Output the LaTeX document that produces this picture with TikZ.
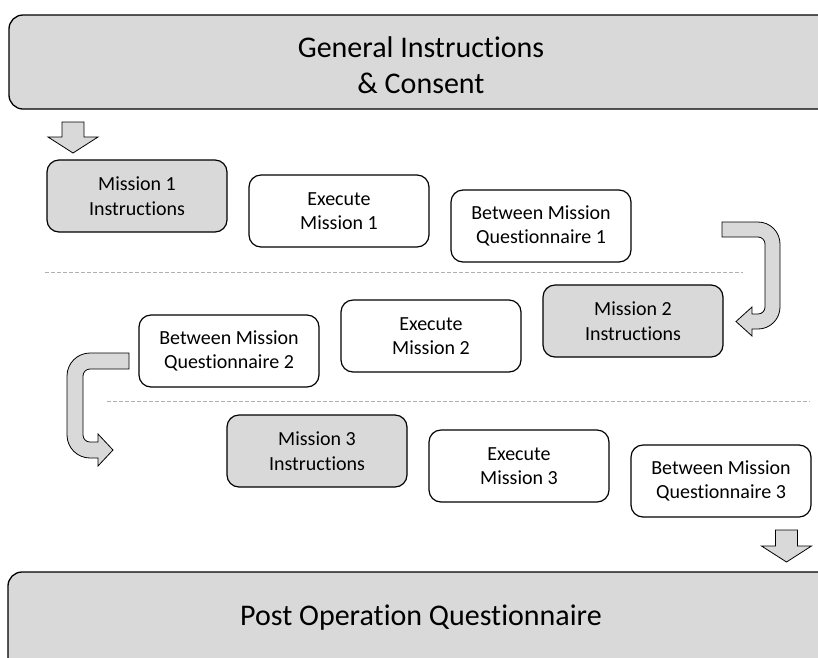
\documentclass[tikz,border=0pt]{standalone}
\usepackage{fontspec}
\setmainfont{Carlito}[Ligatures={NoCommon}]
\usepackage{tikz}
\usetikzlibrary{positioning}
\definecolor{boxgray}{HTML}{D9D9D9}
\definecolor{dashgray}{HTML}{B0B0B0}

\begin{document}
\begin{tikzpicture}[x=1pt, y=-1pt, node distance=202pt,
    stepbox/.style={draw, rectangle, rounded corners=12pt, line width=1.2pt,
      minimum width=180pt, minimum height=72pt, align=center,
      font=\fontsize{20}{24.5}\selectfont},
    instbox/.style={stepbox, fill=boxgray},
    banner/.style={draw, rectangle, rounded corners=14pt, line width=1.3pt, fill=boxgray},
    bannertext/.style={align=center, font=\fontsize{30}{36}\selectfont},
    blockarrow/.style={draw, line width=0.8pt, fill=boxgray, line join=miter},
    divider/.style={dashgray, dash pattern=on 4pt off 2pt, line width=0.8pt}]
  \useasboundingbox (0,0) rectangle (818,657);
  \clip (0,0) rectangle (818,657);

  % Banners
  \node [banner, minimum width=826pt, minimum height=94pt] (intro) at (422,62) {};
  \node [bannertext] (introtext) at (421,65) {General Instructions\\\& Consent};
  \node [banner, minimum width=828pt, minimum height=128pt] (post) at (422,636) {};
  \node [bannertext, anchor=base] (posttext) at (421,625) {Post Operation Questionnaire};

  % Mission 1
  \node [instbox] (m1) at (137,196) {Mission 1\\Instructions};
  \node [stepbox, right of=m1, yshift=-15pt] (e1) {Execute\\Mission 1};
  \node [stepbox, right of=e1, yshift=-15pt] (q1) {Between Mission\\Questionnaire 1};

  % Mission 2
  \node [instbox] (m2) at (633,321) {Mission 2\\Instructions};
  \node [stepbox, left of=m2, yshift=-15pt] (e2) {Execute\\Mission 2};
  \node [stepbox, left of=e2, yshift=-15pt] (q2) {Between Mission\\Questionnaire 2};

  % Mission 3
  \node [instbox] (m3) at (317,451) {Mission 3\\Instructions};
  \node [stepbox, right of=m3, yshift=-15pt] (e3) {Execute\\Mission 3};
  \node [stepbox, right of=e3, yshift=-15pt] (q3) {Between Mission\\Questionnaire 3};

  % Dividers
  \draw [divider] (45,272.5) -- (743,272.5);
  \draw [divider] (107,401.5) -- (810,401.5);

  % Arrows
  \draw [blockarrow] (62,122) -- (84,122) -- (84,137) -- (98,137) -- (73,153)
    -- (48,137) -- (62,137) -- cycle;
  \draw [blockarrow] (775.5,530) -- (797.5,530) -- (797.5,546) -- (811.5,546)
    -- (786.5,562) -- (761.5,546) -- (775.5,546) -- cycle;
  \draw [blockarrow] (722,222) -- (758,222) arc[start angle=90, end angle=0, radius=22pt]
    -- (780,307) arc[start angle=0, end angle=-90, radius=22pt]
    -- (752,329) -- (752,336) -- (736,321.5) -- (752,307) -- (752,314) -- (758,314)
    arc[start angle=-90, end angle=0, radius=7pt]
    -- (765,244) arc[start angle=0, end angle=90, radius=7pt]
    -- (722,237) -- cycle;
  \draw [blockarrow] (129,353) -- (90,353) arc[start angle=90, end angle=180, radius=23pt]
    -- (67,435) arc[start angle=180, end angle=270, radius=23pt]
    -- (98,458) -- (98,466) -- (113,450) -- (98,434) -- (98,442) -- (90,442)
    arc[start angle=270, end angle=180, radius=7pt]
    -- (83,376) arc[start angle=180, end angle=90, radius=7pt]
    -- (129,369) -- cycle;
\end{tikzpicture}
\end{document}
